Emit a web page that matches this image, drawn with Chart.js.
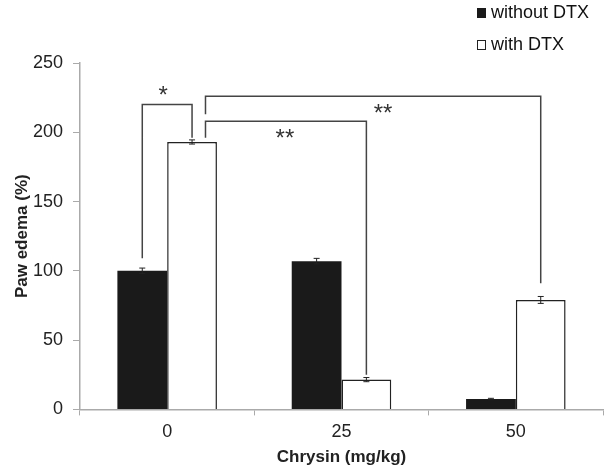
<!DOCTYPE html>
<html>
<head>
<meta charset="utf-8">
<script src="https://cdn.jsdelivr.net/npm/chart.js@4"></script>
<style>
  body { margin: 0; background: #fff; }
  #wrap { position: relative; width: 605px; height: 470px; }
  .leg { position: absolute; font: 18px/20px "Liberation Sans", Arial, sans-serif; color: #111; white-space: nowrap; }
  .sw { display: inline-block; width: 9px; height: 10px; margin-right: 5px; vertical-align: 0px; box-sizing: border-box; }
</style>
</head>
<body>
<div id="wrap">
  <canvas id="bar_chart" width="605" height="470"></canvas>
  <div class="leg" style="left:477px; top:2px;"><span class="sw" style="background:#1a1a1a;"></span>without DTX</div>
  <div class="leg" style="left:477px; top:34px;"><span class="sw" style="border:1px solid #222;"></span>with DTX</div>
</div>
<script>
const categories = ['0', '25', '50'];
const withoutDTX = [100, 107, 7.5];
const withDTX = [193, 21.5, 79];
const withoutErr = [2, 2, 0.5];
const withErr = [1.5, 1.5, 2.5];

// significance brackets: [dataset, category] for each end, heights in y units
const brackets = [
    { a: [0, 0], b: [1, 0], top: 220, aBottom: 109, bBottom: 196, label: '*', below: false, dx: -4 },
    { a: [1, 0], b: [1, 1], top: 208, aBottom: 196, bBottom: 25, label: '**', below: true, shiftA: 0.27, dx: -1 },
    { a: [1, 0], b: [1, 2], top: 226, aBottom: 213, bBottom: 91, label: '**', below: true, shiftA: 0.27, dx: 10 }
];

const errorBars = {
    id: 'errorBars',
    afterDatasetsDraw(chart) {
        const ctx = chart.ctx;
        const y = chart.scales.y;
        const errs = [withoutErr, withErr];
        ctx.save();
        ctx.strokeStyle = '#222';
        ctx.lineWidth = 1;
        chart.data.datasets.forEach((ds, di) => {
            chart.getDatasetMeta(di).data.forEach((bar, i) => {
                const v = ds.data[i], e = errs[di][i];
                const yt = y.getPixelForValue(v + e), yb = y.getPixelForValue(v - e);
                ctx.beginPath();
                ctx.moveTo(bar.x, yt); ctx.lineTo(bar.x, yb);
                ctx.moveTo(bar.x - 3, yt); ctx.lineTo(bar.x + 3, yt);
                ctx.moveTo(bar.x - 3, yb); ctx.lineTo(bar.x + 3, yb);
                ctx.stroke();
            });
        });
        ctx.restore();
    }
};

const bracketPlugin = {
    id: 'brackets',
    afterDatasetsDraw(chart) {
        const ctx = chart.ctx;
        const y = chart.scales.y;
        ctx.save();
        ctx.strokeStyle = '#444';
        ctx.lineWidth = 1.5;
        ctx.fillStyle = '#333';
        ctx.font = '24px "Liberation Sans", Arial, sans-serif';
        ctx.textAlign = 'center';
        brackets.forEach(b => {
            const barA = chart.getDatasetMeta(b.a[0]).data[b.a[1]];
            const barB = chart.getDatasetMeta(b.b[0]).data[b.b[1]];
            const xa = barA.x + (b.shiftA || 0) * barA.width;
            const xb = barB.x;
            const yt = y.getPixelForValue(b.top);
            ctx.beginPath();
            ctx.moveTo(xa, y.getPixelForValue(b.aBottom));
            ctx.lineTo(xa, yt);
            ctx.lineTo(xb, yt);
            ctx.lineTo(xb, y.getPixelForValue(b.bBottom));
            ctx.stroke();
            const mx = (xa + xb) / 2 + b.dx;
            ctx.fillText(b.label, mx, b.below ? yt + 25 : yt - 2);
        });
        ctx.restore();
    }
};

const font = '"Liberation Sans", Arial, sans-serif';

const BarChartData = {
    labels: categories,
    datasets: [{
        label: 'without DTX',
        data: withoutDTX,
        backgroundColor: '#1a1a1a',
        borderColor: '#1a1a1a',
        borderWidth: 0
    }, {
        label: 'with DTX',
        data: withDTX,
        backgroundColor: '#ffffff',
        borderColor: '#222',
        borderWidth: 1.5
    }]
};

const BarChartConfig = {
    type: 'bar',
    data: BarChartData,
    options: {
        responsive: false,
        animation: false,
        layout: { padding: { top: 63, right: 2, left: 12, bottom: 4 } },
        datasets: { bar: { categoryPercentage: 0.571, barPercentage: 1 } },
        plugins: { legend: { display: false }, tooltip: { enabled: false } },
        scales: {
            x: {
                grid: { offset: true, drawOnChartArea: false, color: '#aaa', tickLength: 6 },
                border: { color: '#aaa', width: 1.5 },
                ticks: { color: '#222', font: { size: 18, family: font }, padding: 6 },
                title: { display: true, text: 'Chrysin (mg/kg)', color: '#222', font: { size: 17, weight: 'bold', family: font, lineHeight: 1 }, padding: { top: 0, bottom: 0 } }
            },
            y: {
                min: 0, max: 250,
                afterFit(scale) { scale.width = 68; },
                grid: { drawOnChartArea: false, color: '#aaa', tickLength: 7 },
                border: { color: '#aaa', width: 1.5 },
                ticks: { stepSize: 50, color: '#222', font: { size: 18, family: font }, padding: 10 },
                title: { display: true, text: 'Paw edema (%)', color: '#222', font: { size: 17, weight: 'bold', family: font }, padding: { top: 0, bottom: 1 } }
            }
        }
    },
    plugins: [errorBars, bracketPlugin]
};

// === display chart ===
var myBarChart = new Chart(
    document.getElementById('bar_chart'),
    BarChartConfig
);
</script>
</body>
</html>
